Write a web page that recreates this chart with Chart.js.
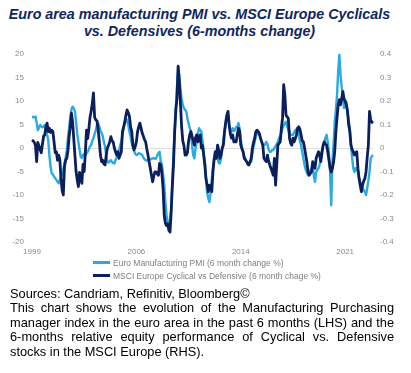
<!DOCTYPE html>
<html>
<head>
<meta charset="utf-8">
<script src="https://cdn.jsdelivr.net/npm/chart.js@4/dist/chart.umd.min.js"></script>
<style>
html,body{margin:0;padding:0;background:#fff;}
#wrap{position:relative;width:411px;height:373px;overflow:hidden;font-family:"Liberation Sans",Arial,sans-serif;}
#title{position:absolute;left:0;top:6px;width:399px;text-align:center;font-weight:bold;font-style:italic;font-size:14.3px;line-height:17px;color:#10265f;}
#cv{position:absolute;left:0;top:40px;}
#legend{position:absolute;left:93px;top:256px;font-size:8.5px;color:#7f7f7f;}
.li{display:flex;align-items:center;height:13px;white-space:nowrap;}
.sw{width:17px;height:3px;margin-right:3px;}
#note{position:absolute;left:10px;top:287px;width:384px;font-size:12.8px;line-height:14.4px;color:#000;}
.j{text-align:justify;text-align-last:justify;}
</style>
</head>
<body>
<div id="wrap">
  <div id="title">Euro area manufacturing PMI vs. MSCI Europe Cyclicals<br>vs. Defensives (6-months change)</div>
  <canvas id="cv" width="411" height="222" style="width:411px;height:222px;"></canvas>
  <div id="legend"></div>
  <div id="note">
    <div>Sources: Candriam, Refinitiv, Bloomberg©</div>
    <div class="j">This chart shows the evolution of the Manufacturing Purchasing</div>
    <div class="j">manager index in the euro area in the past 6 months (LHS) and the</div>
    <div class="j">6-months relative equity performance of Cyclical vs. Defensive</div>
    <div>stocks in the MSCI Europe (RHS).</div>
  </div>
</div>
<script>
// Euro Manufacturing PMI, 6-month change (%), monthly from 1999-01 (left axis)
const PMI = [
  6.6, 6.6, 6.5, 6.7, 5.4, 3.8, 4.3, 4.9, 4.6, 4.4, 4.6, 4.9,
  3.5, 2.8, 1.7, -1.5, -4.0, -5.4, -5.6, -6.1, -6.4, -6.8, -7.2, -7.5,
  -6.8, -6.1, -5.5, -4.5, -3.2, -2.1, -0.4, 2.0, 4.3, 6.5, 8.2, 8.8,
  8.5, 7.8, 5.5, 3.0, 1.3, -0.4, -1.9, -2.1, -1.5, -1.3, -1.5, -1.1,
  -0.8, -0.3, 0.4, 0.6, 1.5, 2.1, 3.0, 3.8, 4.9, 5.3, 4.6, 3.6,
  3.2, 2.5, 1.3, 0.2, -1.5, -2.9, -3.1, -2.8, -2.6, -3.0, -3.2, -3.3,
  -2.6, -2.0, -1.5, -0.5, 0.5, 1.3, 2.8, 4.2, 5.2, 5.7, 6.0, 5.0,
  3.5, 2.4, 1.0, 0.0, -0.6, -1.2, -1.5, -1.4, -1.1, -1.2, -1.3, -1.5,
  -2.0, -2.4, -2.6, -2.7, -2.6, -2.6, -2.4, -2.3, -2.2, -2.1, -2.3, -2.2,
  -1.6, -1.1, -0.8, -2.9, -3.5, -5.5, -7.9, -11.5, -14.3, -15.7, -16.2, -15.4,
  -13.0, -7.0, -1.0, 3.0, 8.5, 13.0, 17.0, 15.5, 12.5, 10.5, 9.2, 8.5,
  8.1, 7.8, 6.3, 5.2, 4.2, 3.5, 0.5, -1.5, -2.2, 0.0, 1.3, 3.0,
  4.2, 3.8, 3.5, 1.5, -1.0, -2.8, -6.5, -9.5, -10.7, -11.5, -9.5, -6.5,
  -4.3, -2.2, -1.3, -1.1, -2.0, -3.2, -3.3, -2.2, -0.3, 1.5, 3.5, 5.0,
  6.3, 7.0, 4.9, 3.8, 3.5, 4.2, 3.6, 3.8, 4.5, 4.5, 5.3, 4.2,
  1.8, 0.3, -0.8, -1.8, -2.5, -2.9, -3.6, -3.2, -2.9, -2.9, -1.2, 0.3,
  1.3, 2.5, 3.2, 3.5, 2.8, 2.1, 1.5, 0.6, 0.6, 0.8, 1.3, 0.8,
  -0.3, -0.8, -0.8, -0.5, -0.4, 0.0, 0.4, 0.8, 1.3, 2.1, 2.5, 3.3,
  4.2, 4.8, 5.2, 5.6, 4.6, 3.8, 3.5, 2.8, 2.8, 2.8, 3.3, 3.8,
  4.0, 4.2, 3.0, 1.5, 0.6, -0.8, -2.2, -3.6, -4.6, -5.3, -5.8, -5.1,
  -4.8, -4.3, -3.6, -6.0, -7.2, -5.1, -4.6, -4.3, -3.6, -2.0, -0.5, 0.6,
  1.3, 2.2, 2.8, 1.3, -1.0, -5.1, -12.2, -3.0, 0.6, 5.6, 8.0, 11.3,
  16.3, 19.9, 15.6, 13.0, 11.3, 8.5, 9.2, 9.9, 7.8, 6.0, 4.2, 0.6,
  -2.0, -4.3, -5.1, -4.3, -4.5, -5.1, -6.5, -7.2, -7.9, -8.6, -9.0, -9.3,
  -10.0, -8.5, -7.0, -5.1, -2.2, -1.8, -1.5
];

// MSCI Europe Cyclicals vs Defensives, 6-month relative performance (right axis)
const CYC_VS_DEF = [
  0.034, 0.030, 0.024, 0.010, -0.058, 0.024, 0.010, -0.006, -0.020, 0.016, 0.050, 0.056,
  0.090, 0.106, 0.070, 0.084, 0.066, 0.076, 0.070, 0.026, -0.020, -0.016, -0.052, -0.030,
  -0.050, -0.130, -0.180, -0.200, -0.080, -0.052, -0.044, -0.012, 0.050, 0.090, 0.148, 0.110,
  0.040, -0.030, -0.100, -0.136, -0.164, -0.104, -0.120, -0.150, -0.070, -0.100, -0.020, 0.076,
  0.040, 0.080, 0.130, 0.156, 0.190, 0.234, 0.130, 0.120, 0.116, 0.080, 0.030, -0.030,
  -0.058, -0.052, -0.068, -0.072, -0.030, 0.000, 0.012, 0.026, 0.048, 0.030, 0.026, 0.000,
  -0.016, -0.030, -0.016, -0.044, -0.030, -0.016, 0.070, 0.090, 0.112, 0.140, 0.162, 0.150,
  0.134, 0.090, 0.070, 0.012, -0.008, 0.006, 0.026, 0.070, 0.090, 0.106, 0.086, 0.064,
  0.050, 0.036, 0.026, -0.004, -0.030, -0.060, -0.086, -0.116, -0.144, -0.120, -0.102, -0.102,
  -0.110, -0.116, -0.066, -0.072, -0.110, -0.172, -0.286, -0.320, -0.330, -0.322, -0.350, -0.358,
  -0.272, -0.160, -0.072, 0.070, 0.160, 0.212, 0.348, 0.284, 0.190, 0.090, 0.030, 0.010,
  -0.030, -0.030, -0.020, 0.030, 0.056, 0.070, 0.050, 0.030, 0.012, 0.044, 0.056, 0.026,
  0.044, 0.056, 0.000, 0.012, -0.030, -0.072, -0.130, -0.158, -0.186, -0.158, -0.170, -0.186,
  -0.102, -0.050, -0.016, -0.044, 0.012, -0.010, -0.044, -0.030, 0.000, 0.012, 0.070, 0.110,
  0.140, 0.156, 0.098, 0.060, 0.042, 0.056, 0.026, 0.026, 0.026, 0.056, 0.084, 0.070,
  0.012, -0.004, -0.016, -0.044, -0.050, -0.058, -0.066, -0.072, -0.060, -0.044, 0.000, 0.024,
  0.042, 0.070, 0.076, 0.070, 0.062, 0.042, 0.026, 0.012, -0.044, -0.052, -0.058, -0.030,
  -0.056, -0.072, -0.086, -0.100, -0.116, -0.044, -0.158, -0.072, 0.012, 0.020, 0.026, 0.084,
  0.126, 0.270, 0.226, 0.140, 0.132, 0.126, 0.042, 0.020, 0.012, 0.042, 0.026, 0.040,
  0.056, 0.084, 0.090, 0.080, 0.056, 0.030, 0.026, 0.000, -0.030, -0.060, -0.102, -0.116,
  -0.108, -0.102, -0.058, -0.072, -0.086, -0.044, -0.030, -0.016, -0.030, -0.058, -0.020, 0.012,
  0.026, 0.018, 0.012, -0.016, -0.050, -0.086, -0.102, -0.086, -0.060, -0.016, 0.070, 0.130,
  0.184, 0.206, 0.184, 0.210, 0.240, 0.210, 0.198, 0.184, 0.156, 0.100, 0.070, 0.012,
  -0.006, -0.016, -0.030, -0.020, -0.016, -0.086, -0.130, -0.160, -0.186, -0.158, -0.140, -0.130,
  -0.102, -0.040, 0.012, 0.156, 0.120, 0.110, 0.106
];

const START_YEAR = 1999;
const MONTHS = PMI.map((_, i) => (START_YEAR + Math.floor(i / 12)) + '-' + String(i % 12 + 1).padStart(2, '0'));
const TICK_DATES = ['1999-01', '2006-07', '2014-01', '2021-07'];
const SERIES_NAMES = ['Euro Manufacturing PMI (6 month change %)', 'MSCI Europe Cyclical vs Defensive (6 month chage %)'];
const COLORS = ['#2aaae2', '#0b1f5c'];

// HTML legend
const lg = document.getElementById('legend');
SERIES_NAMES.forEach((n, k) => {
  const row = document.createElement('div'); row.className = 'li';
  const sw = document.createElement('span'); sw.className = 'sw'; sw.style.background = COLORS[k];
  const tx = document.createElement('span'); tx.textContent = n;
  row.appendChild(sw); row.appendChild(tx); lg.appendChild(row);
});

const tickFont = { family: '"Liberation Sans", Arial, sans-serif', size: 8 };
new Chart(document.getElementById('cv'), {
  type: 'line',
  data: {
    labels: MONTHS,
    datasets: [
      { label: SERIES_NAMES[0], data: PMI, yAxisID: 'yL', borderColor: COLORS[0], borderWidth: 2.4,
        pointRadius: 0, tension: 0, borderJoinStyle: 'round', order: 2 },
      { label: SERIES_NAMES[1], data: CYC_VS_DEF, yAxisID: 'yR', borderColor: COLORS[1], borderWidth: 2.8,
        pointRadius: 0, tension: 0, borderJoinStyle: 'round', order: 1 }
    ]
  },
  options: {
    responsive: false, animation: false, devicePixelRatio: 1,
    layout: { padding: { top: 14, left: 0, right: 0, bottom: 0 } },
    plugins: { legend: { display: false }, tooltip: { enabled: false }, title: { display: false } },
    scales: {
      x: {
        type: 'category',
        grid: { display: false, drawTicks: false }, border: { display: false },
        ticks: {
          autoSkip: false, maxRotation: 0, minRotation: 0, padding: 5, font: tickFont, color: '#8a8a8a',
          callback: function (v) { const l = this.getLabelForValue(v); return TICK_DATES.includes(l) ? l.slice(0, 4) : null; }
        },
        afterFit: s => { s.height = 20; }
      },
      yL: {
        position: 'left', min: -20, max: 20,
        ticks: { stepSize: 5, font: tickFont, color: '#8a8a8a', padding: 8 },
        grid: { drawTicks: false, color: c => (c.tick && c.tick.value === 0) ? '#dedede' : 'rgba(0,0,0,0)' },
        border: { display: false },
        afterFit: s => { s.width = 32; }
      },
      yR: {
        position: 'right', min: -0.4, max: 0.4,
        ticks: { stepSize: 0.1, font: tickFont, color: '#8a8a8a', padding: 7,
          callback: v => { const r = Math.round(v * 10) / 10; return r === 0 ? '0' : r.toFixed(1); } },
        grid: { display: false, drawTicks: false }, border: { display: false },
        afterFit: s => { s.width = 38; }
      }
    }
  }
});
</script>
</body>
</html>
